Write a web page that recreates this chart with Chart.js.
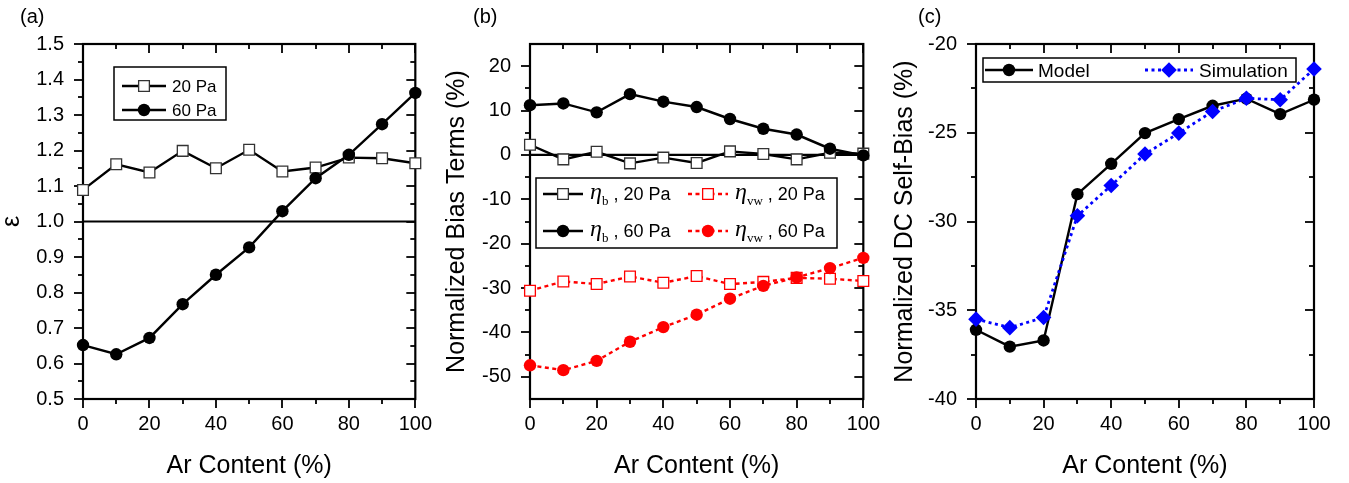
<!DOCTYPE html>
<html>
<head>
<meta charset="utf-8">
<script src="https://cdn.jsdelivr.net/npm/chart.js@4.4.1/dist/chart.umd.min.js"></script>
<style>
  html, body { margin: 0; padding: 0; background: #fff; }
  body { width: 1349px; height: 483px; position: relative; overflow: hidden; }
  .panel { position: absolute; top: 0; height: 483px; }
  canvas { display: block; }
</style>
</head>
<body>
<div class="panel" style="left:0px;width:445px"><canvas id="chartA" width="445" height="483"></canvas></div>
<div class="panel" style="left:445px;width:448px"><canvas id="chartB" width="448" height="483"></canvas></div>
<div class="panel" style="left:893px;width:456px"><canvas id="chartC" width="456" height="483"></canvas></div>
<script>
// ---- data ----
const arContent = [0, 10, 20, 30, 40, 50, 60, 70, 80, 90, 100];

// (a) epsilon
const eps20Pa = [1.089, 1.161, 1.138, 1.199, 1.150, 1.202, 1.141, 1.152, 1.180, 1.178, 1.164];
const eps60Pa = [0.652, 0.626, 0.672, 0.767, 0.850, 0.927, 1.029, 1.122, 1.188, 1.274, 1.362];
const epsReference = 1.0;

// (b) normalized bias terms (%)
const etaB20Pa  = [2.3, -1.0, 0.7, -1.9, -0.6, -1.8, 0.8, 0.2, -1.0, 0.5, 0.3];
const etaB60Pa  = [11.2, 11.6, 9.6, 13.7, 12.0, 10.8, 8.1, 5.9, 4.6, 1.4, -0.1];
const etaVw20Pa = [-30.6, -28.5, -29.1, -27.4, -28.8, -27.3, -29.1, -28.6, -27.7, -27.9, -28.4];
const etaVw60Pa = [-47.4, -48.5, -46.4, -42.1, -38.8, -36.0, -32.4, -29.5, -27.6, -25.5, -23.2];
const biasReference = 0;

// (c) normalized DC self-bias (%)
const selfBiasModel      = [-36.1, -37.05, -36.7, -28.46, -26.75, -25.02, -24.23, -23.48, -23.08, -23.95, -23.14];
const selfBiasSimulation = [-35.5, -35.98, -35.41, -29.68, -27.97, -26.2, -25.02, -23.8, -23.06, -23.14, -21.41];

// ---- axes ----
const xRange = [0, 100];
const xMajorTicks = [0, 20, 40, 60, 80, 100];
const xMinorTicks = [10, 30, 50, 70, 90];

const epsRange = [0.5, 1.5];
const epsMajorTicks = [0.5, 0.6, 0.7, 0.8, 0.9, 1.0, 1.1, 1.2, 1.3, 1.4, 1.5];
const epsMinorTicks = [0.55, 0.65, 0.75, 0.85, 0.95, 1.05, 1.15, 1.25, 1.35, 1.45];

const biasRange = [-55, 25];
const biasMajorTicks = [-50, -40, -30, -20, -10, 0, 10, 20];
const biasMinorTicks = [-45, -35, -25, -15, -5, 5, 15];

const selfBiasRange = [-40, -20];
const selfBiasMajorTicks = [-40, -35, -30, -25, -20];
const selfBiasMinorTicks = [-37.5, -32.5, -27.5, -22.5];

// ---- styling helpers ----
const SANS = '"Liberation Sans", Arial, Helvetica, sans-serif';
const SERIF = '"Liberation Serif", "Times New Roman", serif';
Chart.defaults.font.family = SANS;
Chart.defaults.color = '#000';

const pts = ys => arContent.map((x, i) => ({ x, y: ys[i] }));
const flat = y => xRange.map(x => ({ x, y }));

function drawMarker(ctx, ds, x, y) {
  const style = ds.pointStyle || 'circle';
  const r = ds.pointRadius;
  ctx.save();
  ctx.setLineDash([]);
  ctx.fillStyle = ds.pointBackgroundColor;
  ctx.strokeStyle = ds.pointBorderColor;
  ctx.lineWidth = ds.pointBorderWidth;
  ctx.beginPath();
  if (style === 'rect') {
    const s = Math.SQRT1_2 * r;
    ctx.rect(x - s, y - s, 2 * s, 2 * s);
  } else if (style === 'rectRot') {
    ctx.moveTo(x - r, y); ctx.lineTo(x, y - r); ctx.lineTo(x + r, y); ctx.lineTo(x, y + r); ctx.closePath();
  } else {
    ctx.arc(x, y, r, 0, Math.PI * 2);
  }
  ctx.fill();
  if (ds.pointBorderWidth > 0) ctx.stroke();
  ctx.restore();
}

// Frame with ticks on all four sides: outward on bottom/left, inward on top/right.
const axisFrame = {
  id: 'axisFrame',
  beforeDatasetsDraw(chart, args, opts) {
    const { ctx, chartArea: a, scales: { x, y } } = chart;
    ctx.save();
    ctx.strokeStyle = '#000';
    const seg = (x0, y0, x1, y1) => { ctx.beginPath(); ctx.moveTo(x0, y0); ctx.lineTo(x1, y1); ctx.stroke(); };
    ctx.lineWidth = 1.8;
    const xt = (vals, len) => vals.forEach(v => {
      const px = Math.round(x.getPixelForValue(v));
      seg(px, a.bottom, px, a.bottom + len);
      seg(px, a.top, px, a.top + len);
    });
    const yt = (vals, len) => vals.forEach(v => {
      const py = Math.round(y.getPixelForValue(v));
      seg(a.left - len, py, a.left, py);
      seg(a.right - len, py, a.right, py);
    });
    xt(opts.xMajor, 9); xt(opts.xMinor, 5);
    yt(opts.yMajor, 9); yt(opts.yMinor, 5);
    ctx.lineWidth = 2.2;
    ctx.strokeRect(a.left, a.top, a.right - a.left, a.bottom - a.top);
    ctx.restore();
  },
  afterDraw(chart, args, opts) {
    if (!opts.tag) return;
    const ctx = chart.ctx;
    ctx.save();
    ctx.font = '20px ' + SANS;
    ctx.fillStyle = '#000';
    ctx.textBaseline = 'alphabetic';
    ctx.fillText(opts.tag.text, opts.tag.x, opts.tag.y);
    ctx.restore();
  }
};

// Boxed legend drawn inside the plot; entries may mix fonts (Greek symbol + subscript).
const insetLegend = {
  id: 'insetLegend',
  afterDatasetsDraw(chart, args, opts) {
    if (!opts.box) return;
    const ctx = chart.ctx;
    const b = opts.box;
    ctx.save();
    ctx.fillStyle = '#fff';
    ctx.fillRect(b.left, b.top, b.right - b.left, b.bottom - b.top);
    ctx.strokeStyle = '#000';
    ctx.lineWidth = 1.5;
    ctx.strokeRect(b.left, b.top, b.right - b.left, b.bottom - b.top);
    opts.items.forEach(it => {
      const ds = chart.data.datasets[it.dataset];
      ctx.save();
      ctx.strokeStyle = ds.borderColor;
      ctx.lineWidth = ds.borderWidth;
      ctx.setLineDash(ds.borderDash || []);
      ctx.beginPath();
      ctx.moveTo(it.x0, it.y); ctx.lineTo(it.x1, it.y);
      ctx.stroke();
      ctx.restore();
      drawMarker(ctx, ds, (it.x0 + it.x1) / 2, it.y);
      let tx = it.textX;
      ctx.fillStyle = '#000';
      ctx.textBaseline = 'alphabetic';
      it.parts.forEach(p => {
        ctx.font = p.font;
        ctx.fillText(p.text, tx, it.y + p.dy);
        tx += ctx.measureText(p.text).width;
      });
    });
    ctx.restore();
  }
};

function xScale() {
  return {
    type: 'linear', min: xRange[0], max: xRange[1],
    afterBuildTicks: s => { s.ticks = xMajorTicks.map(v => ({ value: v })); },
    afterFit: s => { s.height = 84; },
    grid: { display: false, drawTicks: false },
    border: { display: false },
    ticks: { font: { size: 20 }, color: '#000', padding: 13, maxRotation: 0, autoSkip: false },
    title: { display: true, text: 'Ar Content (%)', color: '#000', font: { size: 25, lineHeight: 1.2 }, padding: { top: 0, bottom: 2 } }
  };
}

function yScale(range, major, width, title, fmt) {
  return {
    type: 'linear', min: range[0], max: range[1],
    afterBuildTicks: s => { s.ticks = major.map(v => ({ value: v })); },
    afterFit: s => { s.width = width; },
    grid: { display: false, drawTicks: false },
    border: { display: false },
    ticks: { font: { size: 20 }, color: '#000', padding: 19, autoSkip: false, callback: fmt },
    title: { display: true, text: title, color: '#000', font: { size: 25, lineHeight: 1 }, padding: { top: 0, bottom: 0 } }
  };
}

function lineSet(label, ys, o) {
  return Object.assign({
    label, data: pts(ys), showLine: true, tension: 0, clip: false,
    borderWidth: 2.4, pointBorderWidth: 1.3, pointHoverRadius: 0
  }, o);
}

function refSet(yv) {
  return { label: 'ref', data: flat(yv), borderColor: '#000', borderWidth: 2.2, pointRadius: 0, showLine: true, order: 10, clip: false };
}

const baseOptions = (padRight, scales, frame, legend) => ({
  responsive: false, animation: false, events: [],
  layout: { padding: { top: 44, right: padRight, bottom: 0, left: 0 } },
  scales,
  plugins: { legend: { display: false }, tooltip: { enabled: false }, axisFrame: frame, insetLegend: legend }
});

// ---- marker styles ----
const squareBlack = { borderColor: '#000', pointStyle: 'rect', pointRadius: 7.6, pointBackgroundColor: '#fff', pointBorderColor: '#333' };
const circleBlack = { borderColor: '#000', pointStyle: 'circle', pointRadius: 6.2, pointBackgroundColor: '#000', pointBorderColor: '#000', pointBorderWidth: 0 };
const squareRed = { borderColor: '#ff0000', borderDash: [4, 3.5], pointStyle: 'rect', pointRadius: 7.6, pointBackgroundColor: '#fff', pointBorderColor: '#ff0000' };
const circleRed = { borderColor: '#ff0000', borderDash: [4, 3.5], pointStyle: 'circle', pointRadius: 6.2, pointBackgroundColor: '#ff0000', pointBorderColor: '#ff0000', pointBorderWidth: 0 };

// ---- (a) ----
new Chart(document.getElementById('chartA'), {
  type: 'scatter',
  data: { datasets: [
    lineSet('20 Pa', eps20Pa, Object.assign({ order: 2 }, squareBlack)),
    lineSet('60 Pa', eps60Pa, Object.assign({ order: 1 }, circleBlack)),
    refSet(epsReference)
  ] },
  options: baseOptions(24,
    { x: xScale(), y: yScale(epsRange, epsMajorTicks, 83, 'ε', v => v.toFixed(1)) },
    { xMajor: xMajorTicks, xMinor: xMinorTicks, yMajor: epsMajorTicks, yMinor: epsMinorTicks, tag: { text: '(a)', x: 20, y: 23 } },
    { box: { left: 114, top: 67, right: 226, bottom: 120 },
      items: [
        { dataset: 0, x0: 122, x1: 166, y: 86, textX: 172, parts: [{ text: '20 Pa', font: '17px ' + SANS, dy: 6 }] },
        { dataset: 1, x0: 122, x1: 166, y: 110, textX: 172, parts: [{ text: '60 Pa', font: '17px ' + SANS, dy: 6 }] }
      ] }),
  plugins: [axisFrame, insetLegend]
});

// ---- (b) ----
const etaParts = (sub, rest) => [
  { text: 'η', font: 'italic 24px ' + SERIF, dy: 5 },
  { text: sub, font: '13px ' + SERIF, dy: 11 },
  { text: rest, font: '18px ' + SANS, dy: 6 }
];

new Chart(document.getElementById('chartB'), {
  type: 'scatter',
  data: { datasets: [
    lineSet('ηb, 20 Pa', etaB20Pa, Object.assign({ order: 4 }, squareBlack)),
    lineSet('ηb, 60 Pa', etaB60Pa, Object.assign({ order: 3 }, circleBlack)),
    lineSet('ηvw, 20 Pa', etaVw20Pa, Object.assign({ order: 2 }, squareRed)),
    lineSet('ηvw, 60 Pa', etaVw60Pa, Object.assign({ order: 1 }, circleRed)),
    refSet(biasReference)
  ] },
  options: baseOptions(25,
    { x: xScale(), y: yScale(biasRange, biasMajorTicks, 85, 'Normalized Bias Terms (%)', v => String(v)) },
    { xMajor: xMajorTicks, xMinor: xMinorTicks, yMajor: biasMajorTicks, yMinor: biasMinorTicks, tag: { text: '(b)', x: 28, y: 23 } },
    { box: { left: 91, top: 178, right: 392, bottom: 248 },
      items: [
        { dataset: 0, x0: 98, x1: 138, y: 194, textX: 145, parts: etaParts('b', ' , 20 Pa') },
        { dataset: 2, x0: 243, x1: 283, y: 194, textX: 290, parts: etaParts('vw', ' , 20 Pa') },
        { dataset: 1, x0: 98, x1: 138, y: 231, textX: 145, parts: etaParts('b', ' , 60 Pa') },
        { dataset: 3, x0: 243, x1: 283, y: 231, textX: 290, parts: etaParts('vw', ' , 60 Pa') }
      ] }),
  plugins: [axisFrame, insetLegend]
});

// ---- (c) ----
new Chart(document.getElementById('chartC'), {
  type: 'scatter',
  data: { datasets: [
    lineSet('Model', selfBiasModel, Object.assign({ order: 2 }, circleBlack)),
    lineSet('Simulation', selfBiasSimulation, {
      order: 1, borderColor: '#0000ff', borderWidth: 2.8, borderDash: [3, 3.5],
      pointStyle: 'rectRot', pointRadius: 7.8, pointBackgroundColor: '#0000ff', pointBorderColor: '#0000ff', pointBorderWidth: 0
    })
  ] },
  options: baseOptions(35,
    { x: xScale(), y: yScale(selfBiasRange, selfBiasMajorTicks, 83, 'Normalized DC Self-Bias (%)', v => String(v)) },
    { xMajor: xMajorTicks, xMinor: xMinorTicks, yMajor: selfBiasMajorTicks, yMinor: selfBiasMinorTicks, tag: { text: '(c)', x: 25, y: 23 } },
    { box: { left: 90, top: 58, right: 403, bottom: 82 },
      items: [
        { dataset: 0, x0: 92, x1: 140, y: 70, textX: 145, parts: [{ text: 'Model', font: '19px ' + SANS, dy: 7 }] },
        { dataset: 1, x0: 252, x1: 300, y: 70, textX: 306, parts: [{ text: 'Simulation', font: '19px ' + SANS, dy: 7 }] }
      ] }),
  plugins: [axisFrame, insetLegend]
});
</script>
</body>
</html>
